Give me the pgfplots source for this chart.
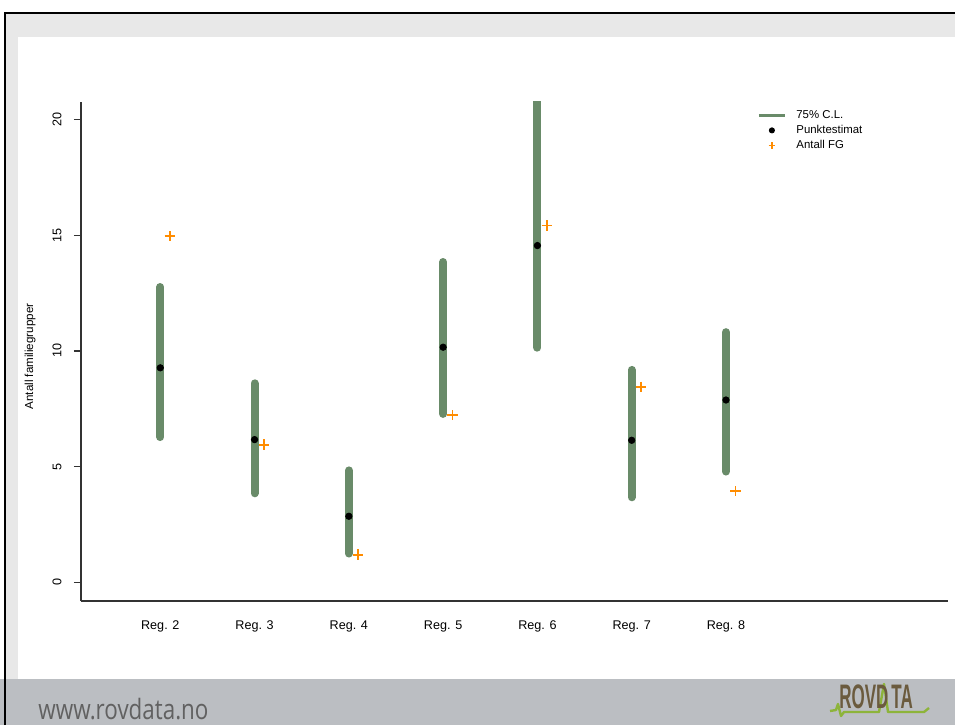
\documentclass[border=0pt]{standalone}
\usepackage{fontspec}
\setmainfont{Liberation Sans}
\newfontfamily\footfont{Open Sans}
\usepackage{pgfplots}
\pgfplotsset{compat=1.18}
\definecolor{clgreen}{HTML}{698B69}
\definecolor{clorange}{HTML}{FF8C00}
\definecolor{clband}{HTML}{E8E8E8}
\definecolor{clfoot}{HTML}{BBBEC2}
\definecolor{clbrown}{HTML}{6B5B3E}
\definecolor{cllogo}{HTML}{8DB43A}

\begin{document}
\begin{tikzpicture}[x=0.5pt,y=0.5pt]
% slide background (pixel grid, y up)
\useasboundingbox (0,0) rectangle (955,725);
\fill[white] (0,0) rectangle (955,725);
\fill[clband] (6,688) rectangle (955,712);
\fill[clband] (6,46) rectangle (18,688);
\fill[clfoot] (0,0) rectangle (955,46);
\draw[black, line width=1pt] (5,0) -- (5,712) -- (955,712);
\node[anchor=base west, inner sep=0pt, text=black!62] at (38,6)
  {\scalebox{0.8}[1]{\footfont\fontsize{14}{14}\selectfont www.rovdata.no}};
% logo
\draw[cllogo, line width=1.2pt, line join=round]
  (830,14) -- (836,15) -- (838,21) -- (841,9) -- (844,13) -- (879,13)
  -- (884,41) -- (888,13) -- (924,13) -- (929,17);
\node[anchor=base west, inner sep=0pt, text=clbrown] at (839,17)
  {\scalebox{0.5}[1]{\fontsize{17}{17}\selectfont\bfseries ROVD}};
\node[anchor=base west, inner sep=0pt, text=clbrown] at (891,17)
  {\scalebox{0.5}[1]{\fontsize{17}{17}\selectfont\bfseries TA}};

\begin{axis}[
  at={(40.5pt,62pt)}, anchor=south west,
  scale only axis,
  width=433.5pt, height=249.5pt,
  xmin=1.159, xmax=10.355,
  ymin=-0.80, ymax=20.75,
  axis lines*=left,
  axis line style={black!80, line width=0.7pt},
  xtick={2,3,4,5,6,7,8},
  xticklabels={Reg. 2, Reg. 3, Reg. 4, Reg. 5, Reg. 6, Reg. 7, Reg. 8},
  xtick style={draw=none},
  xtick align=inside,
  xticklabel style={font=\fontsize{6.3}{7}\selectfont, anchor=center, yshift=-12.5pt},
  ytick={0,5,10,15,20},
  ytick align=outside,
  major tick length=3.5pt,
  ytick style={black!80, line width=0.6pt},
  yticklabel style={font=\fontsize{6.3}{7}\selectfont, rotate=90, anchor=south, inner ysep=6pt},
  /pgf/number format/assume math mode=true,
  ylabel={Antall familiegrupper},
  ylabel style={font=\fontsize{5.8}{7}\selectfont, at={(axis description cs:-0.0588,0.49)}, anchor=center},
  legend style={at={(axis description cs:0.7797,0.985)}, anchor=north west,
    draw=none, fill=none, inner sep=0pt, font=\fontsize{5.7}{7}\selectfont,
    nodes={inner sep=0pt, text height=4.3pt, text depth=1.2pt},
    row sep=2pt, cells={anchor=west},
    /tikz/column 1/.style={column sep=5pt}},
  legend cell align=left,
]

% 75% confidence intervals
\addplot[clgreen, line width=4pt, line cap=round, unbounded coords=jump,
  legend image code/.code={\draw[clgreen, line width=1.5pt, line cap=butt] (0pt,0pt) -- (13pt,0pt);}]
  coordinates {(2,6.28) (2,12.76) (2,nan)
               (3,3.85) (3,8.60) (3,nan)
               (4,1.25) (4,4.84) (4,nan)
               (5,7.28) (5,13.84) (5,nan)
               (6,10.14) (6,22.00) (6,nan)
               (7,3.68) (7,9.18) (7,nan)
               (8,4.79) (8,10.81)};

% point estimates
\addplot[only marks, mark=*, mark size=1.6pt, black,
  legend image code/.code={\path[draw=none,fill=none] (0pt,0pt) -- (13pt,0pt);
    \fill[black] (6.5pt,0pt) circle (1.3pt);}]
  coordinates {(2,9.27) (3,6.17) (4,2.86) (5,10.16) (6,14.55) (7,6.14) (8,7.88)};

% observed number of family groups
\addplot[only marks, mark=+, mark size=2.6pt, clorange, line width=0.9pt,
  legend image code/.code={\path[draw=none,fill=none] (0pt,0pt) -- (13pt,0pt);
    \draw[clorange, line width=0.7pt] (4.8pt,0pt) -- (8.2pt,0pt) (6.5pt,-1.7pt) -- (6.5pt,1.7pt);}]
  coordinates {(2.1,14.95) (3.1,5.95) (4.1,1.20) (5.1,7.22) (6.1,15.42) (7.1,8.45) (8.1,3.94)};

\legend{75\% C.L., Punktestimat, Antall FG}
\end{axis}
\end{tikzpicture}
\end{document}
